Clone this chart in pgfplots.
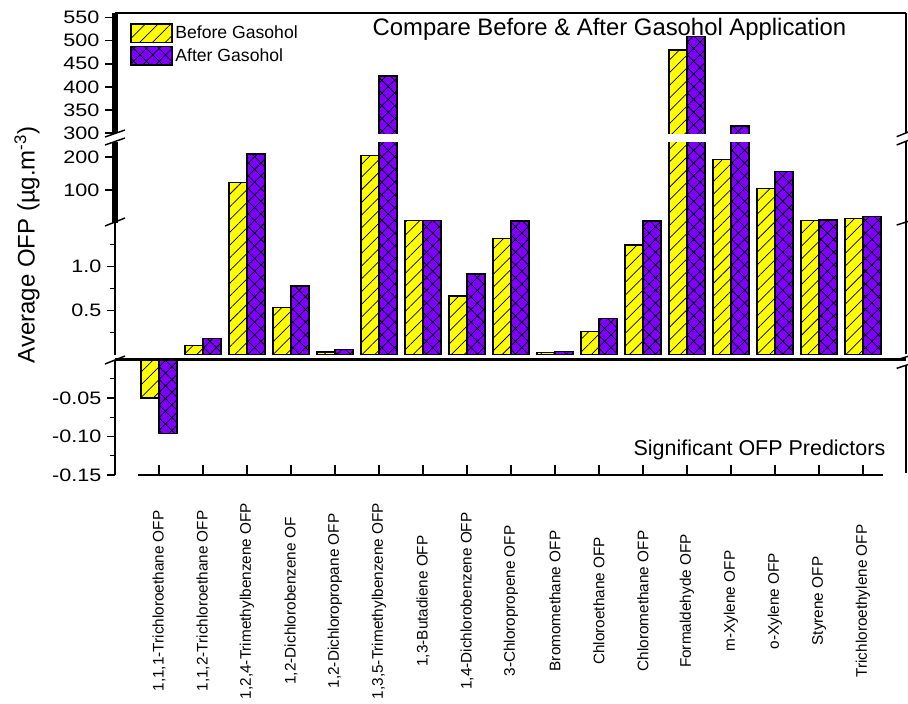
\documentclass[border=0pt]{standalone}
\usepackage{pgfplots}
\pgfplotsset{compat=1.18}
\usepackage{pgfplotstable}
\usepackage{fontspec}
\setmainfont{Liberation Sans}
\usetikzlibrary{patterns.meta}

\definecolor{gasyellow}{RGB}{255,255,0}
\definecolor{gasviolet}{RGB}{128,0,255}

% Average ozone formation potential per compound (ug/m^3)
\pgfplotstableread{
idx before after
0  -0.050 -0.096
1   0.100  0.184
2 121.9  208.7
3   0.536  0.778
4   0.028  0.055
5 203.5  423.5
6   6.9    6.9
7   0.665  0.915
8   1.32   6.0
9   0.020  0.032
10  0.26   0.41
11  1.244  6.0
12 479.8  508.7
13 192.7  315.0
14 104.9  155.2
15  8.0    8.5
16 14.2   19.0
}\ofp

\pgfplotsset{
  beforebar/.style={fill=gasyellow, draw=black, line width=1.1pt,
    postaction={pattern={Lines[angle=45,distance=6.75pt,line width=0.55pt]},pattern color=black}},
  afterbar/.style={fill=gasviolet, draw=black, line width=1.1pt,
    postaction={pattern={Hatch[angle=45,distance=6.75pt,line width=0.55pt]},pattern color=black}},
  seg/.style={
    scale only axis, width=593.3pt,
    xmin=-1, xmax=16.98, enlargelimits=false,
    axis x line=none, axis y line*=left,
    ybar, bar width=13.5pt,
    tick align=outside,
    major tick length=6pt, minor tick length=3.75pt,
    tick style={black, line width=1.1pt},
    y axis line style={-, line width=1.5pt},
    yticklabel style={font=\fontsize{13.5pt}{14pt}\selectfont, xscale=1.2},
    /pgf/number format/assume math mode=true,
    clip=true,
  },
  thickseg/.style={y axis line style={-, line width=4.2pt}, major tick length=7.5pt},
  barsonly/.style={seg, hide axis},
}

\begin{document}
\begin{tikzpicture}
\path[use as bounding box, fill=white] (0pt,0pt) rectangle (681pt,-528pt);

% upper segment 300-560: bars, cut to the visible band
\begin{scope}
\clip (86.25pt,-9.75pt) rectangle (679.5pt,-99.75pt);
\begin{axis}[barsonly, at={(86.25pt,-9.75pt)}, anchor=north west, height=193.85pt,
  ymin=0, ymax=560,
  y filter/.expression={y<300 ? nan : y},
  area legend,
  legend image code/.code={\draw[#1] (0pt,-6.9pt) rectangle (30.75pt,6.9pt);},
  legend style={at={(0.019,0.962)}, anchor=north west, draw=none, fill=none,
    inner sep=0pt, row sep=2pt, font=\fontsize{13.2pt}{14pt}\selectfont},
  legend cell align=left]
\addplot[beforebar, bar shift=-6.75pt] table[x=idx,y=before]{\ofp};
\addplot[afterbar, bar shift=6.75pt] table[x=idx,y=after]{\ofp};
\legend{Before Gasohol, After Gasohol}
\end{axis}
\end{scope}
% upper segment scale
\begin{axis}[seg, thickseg, at={(86.25pt,-9.75pt)}, anchor=north west, height=90pt,
  ymin=300, ymax=560, ytick={300,350,...,550}]
\end{axis}

% second segment 1.5-245: bars, cut to the visible band
\begin{scope}
\clip (86.25pt,-106.5pt) rectangle (679.5pt,-166.875pt);
\begin{axis}[barsonly, at={(86.25pt,-106.5pt)}, anchor=north west, height=60.75pt,
  ymin=0, ymax=245,
  y filter/.expression={y<1.5 ? nan : y}]
\addplot[beforebar, bar shift=-6.75pt] table[x=idx,y=before]{\ofp};
\addplot[afterbar, bar shift=6.75pt] table[x=idx,y=after]{\ofp};
\end{axis}
\end{scope}
% second segment scale
\begin{axis}[seg, thickseg, at={(86.25pt,-106.5pt)}, anchor=north west, height=60.375pt,
  ymin=1.5, ymax=245, ytick={100,200}]
\end{axis}

% third segment 0-1.5
\begin{axis}[seg, at={(86.25pt,-166.875pt)}, anchor=north west, height=99pt,
  ymin=0, ymax=1.5, ytick={0.5,1.0}, minor ytick={0.25,0.75,1.25},
  y filter/.expression={y<0 ? nan : (y>3 ? 3 : y)},
  yticklabel style={/pgf/number format/.cd, fixed, fixed zerofill, precision=1}]
\addplot[beforebar, bar shift=-6.75pt] table[x=idx,y=before]{\ofp};
\addplot[afterbar, bar shift=6.75pt] table[x=idx,y=after]{\ofp};
\end{axis}

% negative segment -0.15-0
\begin{axis}[seg, at={(86.25pt,-269.625pt)}, anchor=north west, height=86.625pt,
  ymin=-0.15, ymax=0, ytick={-0.15,-0.10,-0.05}, minor ytick={-0.125,-0.075,-0.025},
  y filter/.expression={y>0 ? nan : y},
  yticklabel style={/pgf/number format/.cd, fixed, fixed zerofill, precision=2}]
\addplot[beforebar, bar shift=-6.75pt] table[x=idx,y=before]{\ofp};
\addplot[afterbar, bar shift=6.75pt] table[x=idx,y=after]{\ofp};
\end{axis}

% category axis
\begin{axis}[scale only axis, width=558.75pt, height=1pt,
  at={(103.5pt,-356.25pt)}, anchor=south west,
  xmin=-0.4773, xmax=16.4545, ymin=0, ymax=1,
  axis x line=bottom, axis y line=none,
  x axis line style={-, line width=1.1pt},
  tick align=inside, major tick length=7.5pt,
  tick style={black, line width=1.1pt},
  xtick={0,...,16},
  xticklabels={{1,1,1-Trichloroethane OFP}, {1,1,2-Trichloroethane OFP},
    {1,2,4-Trimethylbenzene OFP}, {1,2-Dichlorobenzene OF}, {1,2-Dichloropropane OFP},
    {1,3,5-Trimethylbenzene OFP}, {1,3-Butadiene OFP}, {1,4-Dichlorobenzene OFP},
    {3-Chloropropene OFP}, {Bromomethane OFP}, {Chloroethane OFP}, {Chloromethane OFP},
    {Formaldehyde OFP}, {m-Xylene OFP}, {o-Xylene OFP}, {Styrene OFP}, {Trichloroethylene OFP}},
  xticklabel style={font=\fontsize{11.5pt}{12pt}\selectfont, yshift=-94.5pt, rotate=90, anchor=center}]
\end{axis}

% frame pieces
\draw[line width=1.1pt] (86.25pt,-9.75pt) -- (679.5pt,-9.75pt);
\draw[line width=2.25pt] (86.25pt,-269.625pt) -- (679.5pt,-269.625pt);
\draw[line width=1.1pt] (679.5pt,-9.75pt) -- (679.5pt,-99.75pt);
\draw[line width=1.1pt] (679.5pt,-106.5pt) -- (679.5pt,-265.5pt);
\draw[line width=1.1pt] (679.5pt,-274.5pt) -- (679.5pt,-354.75pt);

% break marks
\begin{scope}[line width=1.1pt]
\draw (78.75pt,-102.75pt) -- (93.75pt,-97.5pt);
\draw (78.75pt,-108.75pt) -- (93.75pt,-103.5pt);
\draw (78.75pt,-169.5pt) -- (93.75pt,-163.5pt);
\draw (78.75pt,-273pt) -- (93.75pt,-267pt);
\draw (672.5pt,-102.5pt) -- (686.25pt,-97pt);
\draw (672.5pt,-108.75pt) -- (686.25pt,-103.25pt);
\draw (672.5pt,-168.75pt) -- (686.25pt,-164.5pt);
\draw (672.5pt,-270pt) -- (686.25pt,-265.5pt);
\draw (672.5pt,-276.25pt) -- (686.25pt,-271.75pt);
\end{scope}

% texts
\node[anchor=base, font=\fontsize{17.9pt}{20pt}\selectfont] at (457.1pt,-26.25pt)
  {Compare Before \& After Gasohol Application};
\node[anchor=base east, font=\fontsize{16.1pt}{18pt}\selectfont] at (667.5pt,-341.25pt)
  {Significant OFP Predictors};
\node[rotate=90, font=\fontsize{18pt}{20pt}\selectfont] at (20.25pt,-183.75pt)
  {Average OFP (µg.m\textsuperscript{-3})};
\end{tikzpicture}
\end{document}
